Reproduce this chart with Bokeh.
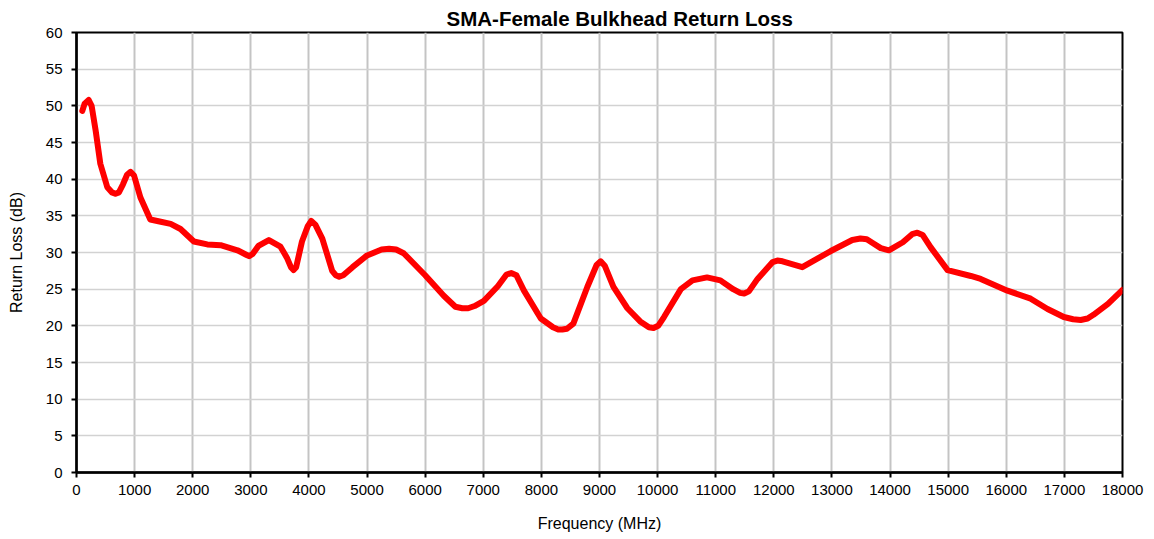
from bokeh.plotting import figure
from bokeh.models import Range1d, SingleIntervalTicker, NumeralTickFormatter, ColumnDataSource
from bokeh.embed import file_html
from bokeh.resources import INLINE

# Data
freq_mhz = [100, 140, 210, 260, 330, 410, 530, 610, 670, 730, 800, 870, 930, 990, 1100,
            1270, 1450, 1620, 1790, 2020, 2250, 2480, 2770, 2920, 2970, 3030, 3130,
            3310, 3510, 3620, 3690, 3735, 3780, 3880, 3980, 4040, 4110, 4230, 4400,
            4460, 4520, 4590, 4750, 5000, 5250, 5380, 5500, 5630, 6000, 6320, 6520,
            6640, 6740, 6850, 7010, 7250, 7400, 7480, 7570, 7700, 7990, 8200, 8290,
            8360, 8440, 8550, 8790, 8950, 9020, 9090, 9240, 9480, 9700, 9850, 9930,
            10010, 10110, 10400, 10600, 10850, 11080, 11300, 11420, 11490, 11570,
            11720, 11980, 12060, 12150, 12490, 12980, 13350, 13490, 13600, 13700,
            13840, 13980, 14220, 14380, 14470, 14560, 14700, 14990, 15390, 15560,
            16020, 16420, 16710, 16990, 17150, 17280, 17400, 17500, 17750, 18000]
return_loss_db = [49.3, 50.3, 50.8, 50.0, 46.6, 42.1, 38.9, 38.2, 38.0, 38.2, 39.3, 40.6,
                  41.0, 40.5, 37.5, 34.5, 34.2, 33.9, 33.2, 31.5, 31.1, 31.0, 30.3, 29.7,
                  29.5, 29.8, 30.9, 31.7, 30.8, 29.3, 28.0, 27.6, 28.0, 31.5, 33.6, 34.3,
                  33.8, 31.9, 27.5, 26.9, 26.7, 26.9, 28.0, 29.6, 30.4, 30.5, 30.4, 29.9,
                  26.9, 24.1, 22.6, 22.4, 22.4, 22.7, 23.4, 25.4, 27.0, 27.2, 26.9, 24.8,
                  21.0, 19.8, 19.5, 19.5, 19.6, 20.3, 25.3, 28.3, 28.8, 28.2, 25.3, 22.4,
                  20.6, 19.8, 19.7, 20.0, 21.2, 25.0, 26.2, 26.6, 26.2, 25.0, 24.5, 24.4,
                  24.7, 26.4, 28.7, 28.9, 28.8, 28.0, 30.2, 31.7, 31.9, 31.8, 31.3,
                  30.6, 30.3, 31.4, 32.5, 32.7, 32.4, 30.7, 27.6, 26.8, 26.4,
                  24.8, 23.7, 22.3, 21.2, 20.9, 20.8, 21.0, 21.5, 23.0, 24.9]

title_text = "SMA-Female Bulkhead Return Loss"
x_title = "Frequency (MHz)"
y_title = "Return Loss (dB)"
FONT = "Liberation Sans"

src = ColumnDataSource(dict(f=freq_mhz, rl=return_loss_db))

p = figure(width=1146, height=539, output_backend="svg", toolbar_location=None,
           x_range=Range1d(0, 18000), y_range=Range1d(0, 60),
           min_border_left=76, min_border_right=24, min_border_top=32, min_border_bottom=67,
           title=title_text)

p.title.align = "left"
p.title.offset = 370
p.title.text_font = FONT
p.title.text_font_size = "20.5px"
p.title.text_font_style = "bold"
p.title.text_color = "black"
p.title.standoff = 6

p.line("f", "rl", source=src, line_color="#ff0000", line_width=6,
       line_join="round", line_cap="round")

for ax in (p.xaxis[0], p.yaxis[0]):
    ax.axis_line_color = "black"
    ax.axis_line_width = 2.5
    ax.major_tick_line_color = "black"
    ax.major_tick_line_width = 2
    ax.major_tick_out = 5
    ax.major_tick_in = 0
    ax.minor_tick_line_color = None
    ax.major_label_text_font = FONT
    ax.major_label_text_font_size = "15px"
    ax.major_label_text_color = "black"
    ax.axis_label_text_font = FONT
    ax.axis_label_text_font_size = "16px"
    ax.axis_label_text_font_style = "normal"
    ax.axis_label_text_color = "black"

p.xaxis.ticker = SingleIntervalTicker(interval=1000, num_minor_ticks=0)
p.yaxis.ticker = SingleIntervalTicker(interval=5, num_minor_ticks=0)
p.xaxis.formatter = NumeralTickFormatter(format="0")
p.xaxis.axis_label = x_title
p.yaxis.axis_label = y_title
p.xaxis.major_label_standoff = 7
p.yaxis.major_label_standoff = 9
p.xaxis.axis_label_standoff = 17
p.yaxis.axis_label_standoff = 18

p.xgrid.grid_line_color = "#c4c4c4"
p.xgrid.grid_line_width = 2
p.ygrid.grid_line_color = "#d2d2d2"
p.ygrid.grid_line_width = 1.5

p.outline_line_color = "black"
p.outline_line_width = 2
p.outline_line_alpha = 1.0
p.background_fill_color = "white"
p.border_fill_color = "white"

open("out.html", "w").write(file_html(p, INLINE))
